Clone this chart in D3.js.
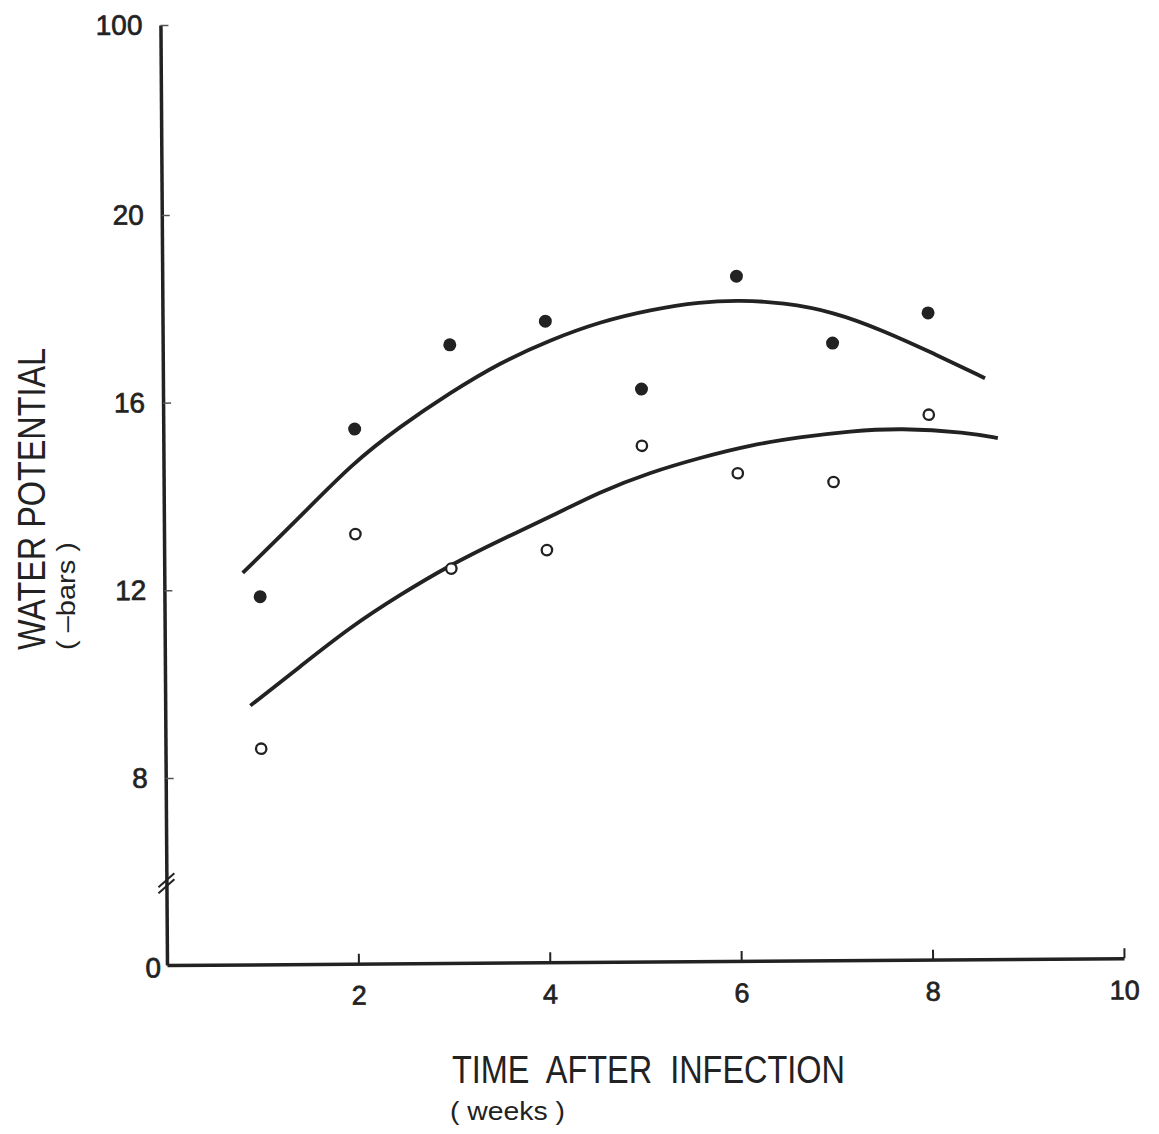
<!DOCTYPE html>
<html>
<head>
<meta charset="utf-8">
<script src="https://cdn.jsdelivr.net/npm/d3@7"></script>
<style>
  body { margin: 0; background: #fff; }
  text { font-family: "Liberation Sans", Arial, sans-serif; fill: #222; }
</style>
</head>
<body>
<div id="chart"></div>
<script>
// data
var weeks = [1, 2, 3, 4, 5, 6, 7, 8];
var filledValues = [11.85, 15.41, 17.19, 17.68, 16.22, 18.61, 17.17, 17.80];
var openValues = [8.61, 13.17, 12.42, 12.80, 15.01, 14.41, 14.21, 15.63];

var upperCurveWeeks = [0.82, 1.42, 1.98, 2.47, 3.0, 3.52, 4.05, 4.57, 5.10, 5.62, 6.04, 6.48, 7.01, 7.53, 8.05, 8.59];
var upperCurveValues = [12.36, 13.54, 14.69, 15.45, 16.17, 16.80, 17.28, 17.66, 17.91, 18.07, 18.10, 18.04, 17.84, 17.43, 16.94, 16.40];
var lowerCurveWeeks = [0.89, 1.41, 1.94, 2.46, 2.99, 3.51, 4.03, 4.56, 5.08, 5.61, 6.13, 6.65, 7.18, 7.70, 8.40, 8.72];
var lowerCurveValues = [9.53, 10.35, 11.19, 11.87, 12.50, 13.02, 13.50, 14.04, 14.44, 14.75, 15.01, 15.17, 15.29, 15.35, 15.25, 15.12];

var xTicks = [2, 4, 6, 8, 10];
var yTicks = [0, 8, 12, 16, 20, 100];
var breakValue = 3.5;

var svgWidth = 1159;
var svgHeight = 1134;
var ink = "#222";

var svg = d3.select("#chart")
  .append("svg")
  .attr("width", svgWidth)
  .attr("height", svgHeight)
  .style("background", "#fff");

// scales (y axis is broken: 0..8 squeezed, 20..100 squeezed)
var x = d3.scaleLinear().domain([0, 10]).range([167, 1124]);
var y = d3.scaleLinear().domain([0, 8, 20, 100]).range([965, 778, 215, 25]);

// the scanned figure is slightly tilted
var plot = svg.append("g")
  .attr("transform", "rotate(-0.4," + x(0) + "," + y(0) + ")");

// x axis
var xAxis = plot.append("g")
  .attr("transform", "translate(0," + y(0) + ")")
  .call(d3.axisBottom(x).tickValues(xTicks).tickSize(-10).tickSizeOuter(0).tickPadding(22));
xAxis.select(".domain").attr("stroke", ink).attr("stroke-width", 3.5);
xAxis.selectAll(".tick line").attr("stroke", ink).attr("stroke-width", 2);
xAxis.selectAll(".tick text").attr("font-size", 27).attr("fill", ink)
  .attr("stroke", ink).attr("stroke-width", 0.7)
  .style("font-family", '"Liberation Sans", Arial, sans-serif');

// y axis
var yAxis = plot.append("g")
  .attr("transform", "translate(" + x(0) + ",0)")
  .call(d3.axisLeft(y).tickValues(yTicks).tickFormat(d3.format("d")).tickSize(-8).tickSizeOuter(0).tickPadding(18));
yAxis.select(".domain").attr("stroke", ink).attr("stroke-width", 3.5);
yAxis.selectAll(".tick line").attr("stroke", "#555").attr("stroke-width", 1.5);
yAxis.selectAll(".tick text").attr("font-size", 28).attr("fill", ink)
  .attr("stroke", ink).attr("stroke-width", 0.7)
  .style("font-family", '"Liberation Sans", Arial, sans-serif');
yAxis.selectAll(".tick").filter(d => d === 0).select("line").remove();
yAxis.selectAll(".tick").filter(d => d === 0).select("text").attr("x", -6).attr("dy", "0.42em");

// axis break marks
[-3, 3].forEach(function(off) {
  plot.append("line")
    .attr("x1", x(0) - 8).attr("y1", y(breakValue) + off + 7)
    .attr("x2", x(0) + 8).attr("y2", y(breakValue) + off - 7)
    .attr("stroke", ink).attr("stroke-width", 2);
});

// fitted curves (smoothed through the read-off points)
var line = d3.line()
  .x(d => x(d[0]))
  .y(d => y(d[1]))
  .curve(d3.curveBasis);

plot.append("path")
  .datum(d3.zip(upperCurveWeeks, upperCurveValues))
  .attr("d", line)
  .attr("fill", "none").attr("stroke", ink).attr("stroke-width", 3.8);

plot.append("path")
  .datum(d3.zip(lowerCurveWeeks, lowerCurveValues))
  .attr("d", line)
  .attr("fill", "none").attr("stroke", ink).attr("stroke-width", 3.8);

// points
plot.selectAll(".filled")
  .data(d3.zip(weeks, filledValues))
  .enter().append("circle")
  .attr("class", "filled")
  .attr("cx", d => x(d[0]))
  .attr("cy", d => y(d[1]))
  .attr("r", 6.5)
  .attr("fill", ink);

plot.selectAll(".open")
  .data(d3.zip(weeks, openValues))
  .enter().append("circle")
  .attr("class", "open")
  .attr("cx", d => x(d[0]))
  .attr("cy", d => y(d[1]))
  .attr("r", 5.2)
  .attr("fill", "#fff")
  .attr("stroke", ink)
  .attr("stroke-width", 2.3);

// axis titles
svg.append("text")
  .attr("transform", "translate(45,499) rotate(-90)")
  .attr("text-anchor", "middle")
  .attr("font-size", 39)
  .attr("textLength", 302)
  .attr("lengthAdjust", "spacingAndGlyphs")
  .text("WATER POTENTIAL");

svg.append("text")
  .attr("transform", "translate(75,596) rotate(-90)")
  .attr("text-anchor", "middle")
  .attr("font-size", 25)
  .attr("textLength", 108)
  .attr("lengthAdjust", "spacingAndGlyphs")
  .style("white-space", "pre")
  .text("( \u2013bars )");

svg.append("text")
  .attr("x", 452)
  .attr("y", 1083)
  .attr("font-size", 39)
  .attr("textLength", 393)
  .attr("lengthAdjust", "spacingAndGlyphs")
  .style("white-space", "pre")
  .text("TIME  AFTER  INFECTION");

svg.append("text")
  .attr("x", 450)
  .attr("y", 1120)
  .attr("font-size", 25)
  .attr("textLength", 115)
  .attr("lengthAdjust", "spacingAndGlyphs")
  .style("white-space", "pre")
  .text("( weeks )");
</script>
</body>
</html>
